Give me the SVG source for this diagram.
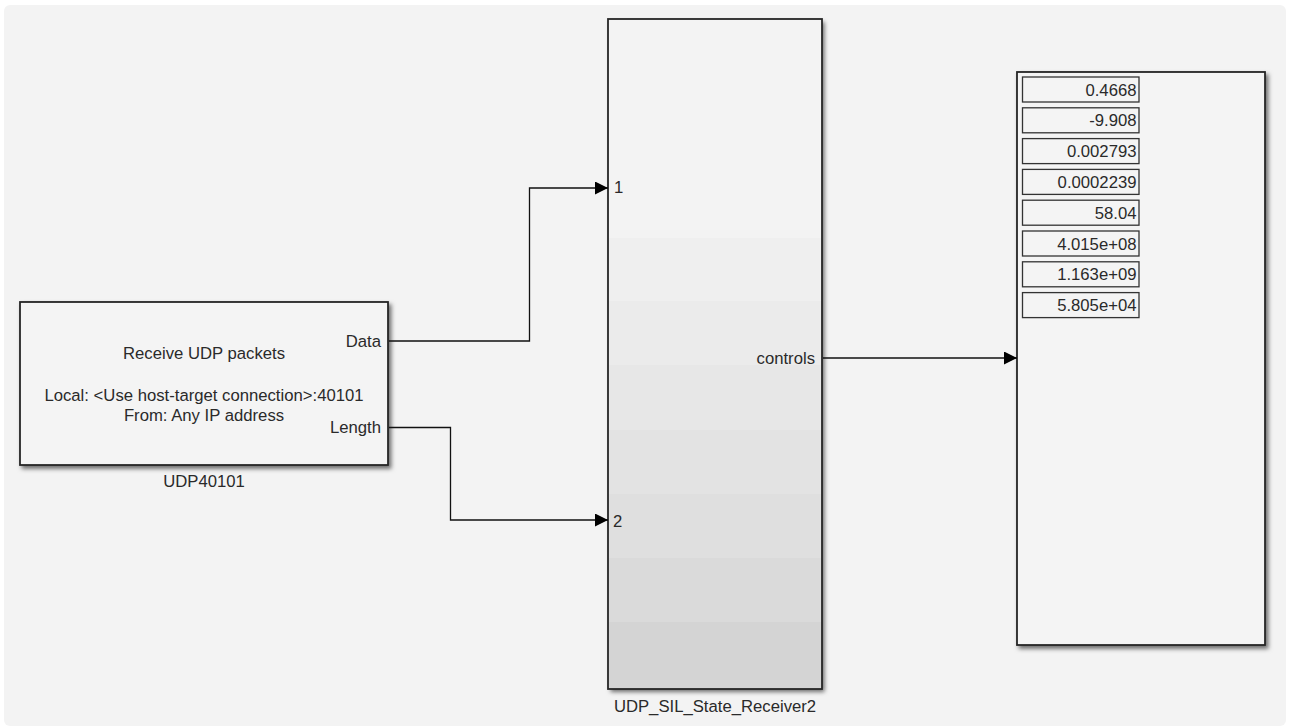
<svg xmlns="http://www.w3.org/2000/svg" width="1289" height="727" viewBox="0 0 1289 727">
  <defs>
    <filter id="shadow" x="-5%" y="-5%" width="115%" height="115%">
      <feDropShadow dx="2.5" dy="3" stdDeviation="2" flood-color="#000" flood-opacity="0.55"/>
    </filter>
    <marker id="arrow" viewBox="0 0 13 13" refX="13" refY="6.5" markerWidth="13" markerHeight="13" markerUnits="userSpaceOnUse" orient="auto">
      <path d="M0,0 L13,6.5 L0,13 Z" fill="#000"/>
    </marker>
  </defs>
  <style>
    text { font-family: "Liberation Sans", Arial, sans-serif; font-size: 16.7px; fill: #2a2a2a; }
    .block { fill: #f4f4f4; stroke: #262626; stroke-width: 1.8; }
    .outline { fill: none; stroke: #262626; stroke-width: 1.8; }
    .disp { fill: #f4f4f4; stroke: #333; stroke-width: 1.3; }
    .num { text-anchor: end; }
    .mid { text-anchor: middle; }
    .end { text-anchor: end; }
    .wire { fill: none; stroke: #111; stroke-width: 1.3; }
  </style>
  <rect x="0" y="0" width="1289" height="727" fill="#ffffff"/>
  <rect x="4" y="5" width="1282" height="721" rx="6" fill="#f3f3f3"/>

  <g id="udp40101">
    <rect class="block" x="20" y="302" width="368" height="163" filter="url(#shadow)"/>
    <text class="mid" x="204" y="359">Receive UDP packets</text>
    <text class="mid" x="204" y="401">Local: &lt;Use host-target connection&gt;:40101</text>
    <text class="mid" x="204" y="421">From: Any IP address</text>
    <text class="end" x="381" y="347">Data</text>
    <text class="end" x="381" y="433">Length</text>
    <text class="mid" x="204" y="487">UDP40101</text>
  </g>

  <g id="udp_sil_state_receiver2">
    <rect x="608" y="19" width="214" height="670" fill="#f3f3f3" filter="url(#shadow)"/>
    <rect x="608" y="238" width="214" height="63" fill="#efefef"/>
    <rect x="608" y="301" width="214" height="64" fill="#ebebeb"/>
    <rect x="608" y="365" width="214" height="65" fill="#e7e7e7"/>
    <rect x="608" y="430" width="214" height="64" fill="#e3e3e3"/>
    <rect x="608" y="494" width="214" height="64" fill="#dfdfdf"/>
    <rect x="608" y="558" width="214" height="64" fill="#dadada"/>
    <rect x="608" y="622" width="214" height="67" fill="#d4d4d4"/>
    <rect class="outline" x="608" y="19" width="214" height="670"/>
    <text x="614" y="193">1</text>
    <text x="613" y="527">2</text>
    <text class="end" x="815" y="364">controls</text>
    <text class="mid" x="715" y="712">UDP_SIL_State_Receiver2</text>
  </g>

  <g id="display">
    <rect class="block" x="1017" y="72" width="248" height="573" filter="url(#shadow)"/>
    <rect class="disp" x="1022.5" y="77" width="116.5" height="25"/>
    <text class="num" x="1136.5" y="95.5">0.4668</text>
    <rect class="disp" x="1022.5" y="107.8" width="116.5" height="25"/>
    <text class="num" x="1136.5" y="126.3">-9.908</text>
    <rect class="disp" x="1022.5" y="138.6" width="116.5" height="25"/>
    <text class="num" x="1136.5" y="157.1">0.002793</text>
    <rect class="disp" x="1022.5" y="169.4" width="116.5" height="25"/>
    <text class="num" x="1136.5" y="187.9">0.0002239</text>
    <rect class="disp" x="1022.5" y="200.2" width="116.5" height="25"/>
    <text class="num" x="1136.5" y="218.7">58.04</text>
    <rect class="disp" x="1022.5" y="231" width="116.5" height="25"/>
    <text class="num" x="1136.5" y="249.5">4.015e+08</text>
    <rect class="disp" x="1022.5" y="261.8" width="116.5" height="25"/>
    <text class="num" x="1136.5" y="280.3">1.163e+09</text>
    <rect class="disp" x="1022.5" y="292.6" width="116.5" height="25"/>
    <text class="num" x="1136.5" y="311.1">5.805e+04</text>
  </g>

  <g id="connectors">
    <polyline class="wire" points="389,341 529.5,341 529.5,188 608,188" marker-end="url(#arrow)"/>
    <polyline class="wire" points="389,427.5 450.5,427.5 450.5,520 608,520" marker-end="url(#arrow)"/>
    <polyline class="wire" points="823,358 1017,358" marker-end="url(#arrow)"/>
  </g>
</svg>
